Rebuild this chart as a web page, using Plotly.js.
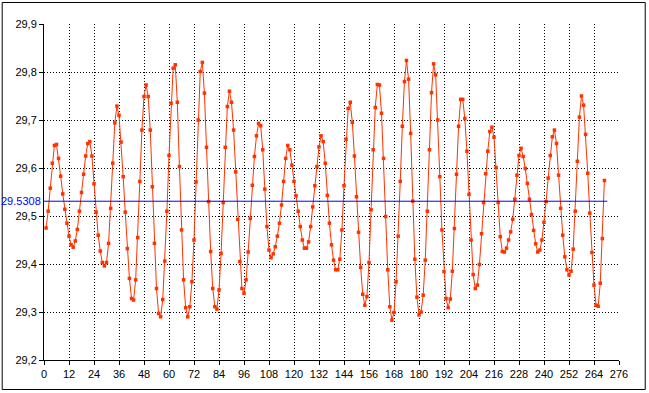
<!DOCTYPE html>
<html><head><meta charset="utf-8">
<script src="https://cdn.plot.ly/plotly-3.0.1.min.js"></script>
<style>html,body{margin:0;padding:0;background:#fff}#chart{width:649px;height:393px}</style>
</head><body><div id="chart"></div>
<script>
const lunationIndex = [];
for (let i = 1; i <= 269; i++) lunationIndex.push(i);
const monthLength = [
29.475,29.510,29.558,29.610,29.647,29.649,29.620,29.583,29.546,29.514,
29.485,29.458,29.440,29.435,29.448,29.472,29.510,29.549,29.587,29.625,
29.651,29.655,29.625,29.567,29.508,29.460,29.427,29.403,29.396,29.403,
29.443,29.516,29.610,29.694,29.729,29.710,29.654,29.582,29.508,29.432,
29.370,29.328,29.325,29.367,29.455,29.572,29.679,29.749,29.773,29.749,
29.679,29.561,29.443,29.349,29.297,29.290,29.326,29.406,29.510,29.626,
29.735,29.808,29.815,29.737,29.603,29.471,29.367,29.309,29.290,29.311,
29.363,29.450,29.571,29.700,29.801,29.820,29.756,29.643,29.530,29.426,
29.349,29.311,29.306,29.346,29.422,29.528,29.643,29.728,29.760,29.737,
29.679,29.592,29.493,29.405,29.349,29.339,29.367,29.425,29.495,29.564,
29.624,29.667,29.693,29.688,29.638,29.556,29.478,29.429,29.413,29.421,
29.436,29.458,29.485,29.523,29.572,29.620,29.647,29.638,29.606,29.572,
29.542,29.510,29.478,29.450,29.433,29.433,29.446,29.478,29.519,29.563,
29.603,29.644,29.667,29.655,29.610,29.543,29.485,29.440,29.408,29.388,
29.388,29.410,29.471,29.563,29.660,29.724,29.737,29.695,29.625,29.540,
29.466,29.393,29.337,29.314,29.332,29.403,29.513,29.638,29.726,29.774,
29.773,29.714,29.620,29.499,29.388,29.311,29.283,29.299,29.363,29.458,
29.572,29.687,29.780,29.824,29.785,29.672,29.531,29.410,29.331,29.294,
29.300,29.335,29.408,29.510,29.638,29.757,29.817,29.794,29.700,29.582,
29.471,29.384,29.328,29.309,29.327,29.385,29.474,29.587,29.687,29.743,
29.743,29.703,29.635,29.545,29.450,29.378,29.349,29.356,29.399,29.463,
29.528,29.588,29.635,29.676,29.685,29.664,29.601,29.528,29.457,29.426,
29.425,29.433,29.450,29.467,29.493,29.535,29.585,29.626,29.641,29.624,
29.599,29.568,29.535,29.503,29.470,29.442,29.425,29.429,29.450,29.487,
29.530,29.579,29.626,29.665,29.679,29.651,29.585,29.516,29.460,29.415,
29.388,29.377,29.385,29.431,29.510,29.614,29.706,29.750,29.731,29.670,
29.589,29.506,29.424,29.356,29.314,29.312,29.360,29.453,29.574
];
const meanValue = 29.5308;
const meanLabel = "29.5308";
const meanEnd = 270.4;
const xTicks = [];
for (let v = 0; v <= 276; v += 12) xTicks.push(v);

const trace = {
  x: lunationIndex, y: monthLength, type: 'scatter', mode: 'lines+markers',
  line: {color: '#ff3300', width: 1},
  marker: {color: '#ff3300', symbol: 'square', size: 3.5},
  hoverinfo: 'skip', showlegend: false
};
const font = {family: 'Liberation Sans, Arial, sans-serif', size: 11, color: '#000'};
const layout = {
  width: 649, height: 393,
  margin: {l: 44.3, r: 29.7, t: 24, b: 33, pad: 0},
  paper_bgcolor: '#fff', plot_bgcolor: '#fff',
  separators: ',.',
  font: font,
  showlegend: false,
  xaxis: {
    range: [0, 276], tickmode: 'array', tickvals: xTicks, ticktext: xTicks.map(String),
    showgrid: true, gridcolor: '#000', griddash: '1px,2px', gridwidth: 1,
    showline: true, linecolor: '#000', linewidth: 1, zeroline: false,
    ticks: 'outside', ticklen: 4, tickcolor: '#000', tickfont: font, fixedrange: true
  },
  yaxis: {
    range: [29.2, 29.9], dtick: 0.1, tick0: 29.2, tickformat: '.1f',
    showgrid: true, gridcolor: '#000', griddash: '1px,2px', gridwidth: 1,
    showline: true, linecolor: '#000', linewidth: 1, zeroline: false,
    ticks: 'outside', ticklen: 4, tickcolor: '#000', tickfont: font, fixedrange: true
  },
  shapes: [
    {type: 'line', xref: 'x', yref: 'y', x0: 0, x1: meanEnd, y0: meanValue, y1: meanValue,
     line: {color: '#0000ff', width: 1}, layer: 'above'},
    {type: 'rect', xref: 'paper', yref: 'paper', x0: -0.0727, x1: 1.0456, y0: -0.0878, y1: 1.064,
     line: {color: '#000', width: 1}, fillcolor: 'rgba(0,0,0,0)'}
  ],
  annotations: [
    {xref: 'paper', yref: 'y', x: 0, y: meanValue, xanchor: 'right', yanchor: 'middle',
     xshift: -1, text: meanLabel, showarrow: false,
     font: {family: 'Liberation Sans, Arial, sans-serif', size: 11, color: '#0000ff'}}
  ]
};
Plotly.newPlot('chart', [trace], layout, {staticPlot: true, displayModeBar: false});
</script></body></html>
